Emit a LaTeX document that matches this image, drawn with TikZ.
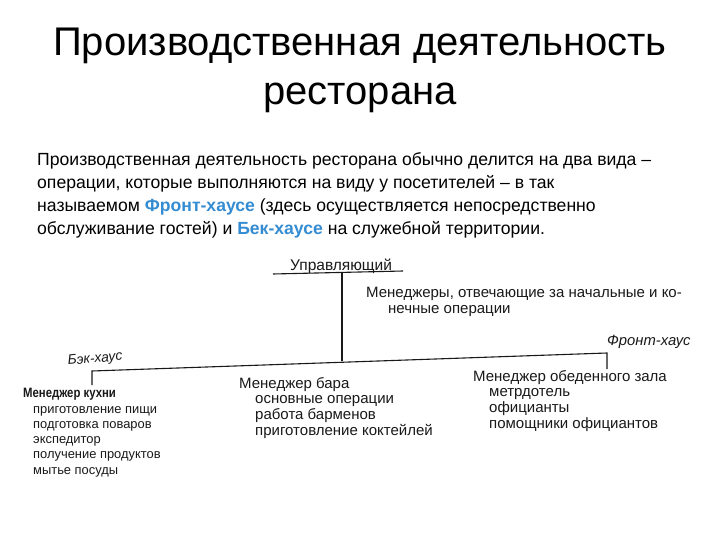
\documentclass[tikz,border=0pt]{standalone}
\usepackage{fontspec}
\setmainfont{Liberation Sans}
\usetikzlibrary{calc}
\definecolor{hl}{RGB}{52,140,210}
\definecolor{ink}{RGB}{25,25,25}
\tikzset{
  title/.style={font=\fontsize{40}{44}\selectfont, inner sep=0pt},
  body/.style={font=\fontsize{17.6}{23}\selectfont, anchor=north west, align=left, inner sep=0pt},
  lbl/.style={font=\fontsize{15.5}{17}\selectfont, anchor=base west, inner sep=0pt, text=ink},
  side/.style={font=\fontsize{14.8}{16}\selectfont\itshape, anchor=base west, inner sep=0pt, text=ink},
  lst/.style={font=\fontsize{15}{15.7}\selectfont, anchor=north west, align=left, inner sep=0pt, text=ink},
  kitline/.style={font=\fontsize{12.9}{14}\selectfont, anchor=base west, inner sep=0pt, text=ink},
  wire/.style={draw=ink, line width=1.1pt}
}
\begin{document}
\begin{tikzpicture}[x=1pt,y=-1pt]
\useasboundingbox (0,0) rectangle (720,540);
\fill[white] (0,0) rectangle (720,540);
% title
\node[title] (t1) at (360,46) {Производственная деятельность};
\node[title] (t2) at (360,98) {ресторана};
% body
\node[body] (b) at (37,152) {Производственная деятельность ресторана обычно делится на два вида –\\
операции, которые выполняются на виду у посетителей – в так\\
называемом \textcolor{hl}{\textbf{Фронт-хаусе}} (здесь осуществляется непосредственно\\
обслуживание гостей) и \textcolor{hl}{\textbf{Бек-хаусе}} на служебной территории.};
% diagram
\node[lbl] (mgr) at (290,270) {Управляющий};
\coordinate (ul) at (273,274);
\coordinate (ur) at (403,271);
\draw[wire] (ul) -- (ur);
\node[lst] (ops) at (366,287) {Менеджеры, отвечающие за начальные и ко-\\\hspace*{22pt}нечные операции};
\node[side] (fh) at (607,345) {Фронт-хаус};
\node[side, font=\fontsize{13.8}{15}\selectfont\itshape, rotate=5] (bh) at (68,365) {Бэк-хаус};
\coordinate (L) at (92,371);
\coordinate (R) at (607,353);
\coordinate (Lb) at (92,385);
\coordinate (Rb) at (607,369);
\coordinate (top) at (342,273);
\coordinate (J) at (342,361);
\draw[wire] (Lb) -- (L) -- (R) -- (Rb);
\draw[wire] (top) -- (J);
% kitchen
\node[kitline] (k0) at (23,397) {\scalebox{0.88}[1.05]{\textbf{Менеджер кухни}}};
\node[kitline] (k1) at (33,413) {приготовление пищи};
\node[kitline] (k2) at (33,428) {подготовка поваров};
\node[kitline] (k3) at (33,443) {экспедитор};
\node[kitline] (k4) at (33,458) {получение продуктов};
\node[kitline] (k5) at (33,474) {мытье посуды};
% bar
\node[lst] (bar) at (239,377) {Менеджер бара\\
\hspace*{16pt}основные операции\\
\hspace*{16pt}работа барменов\\
\hspace*{16pt}приготовление коктейлей};
% hall
\node[lst] (hall) at (473,370) {Менеджер обеденного зала\\
\hspace*{16pt}метрдотель\\
\hspace*{16pt}официанты\\
\hspace*{16pt}помощники официантов};
\end{tikzpicture}
\end{document}
